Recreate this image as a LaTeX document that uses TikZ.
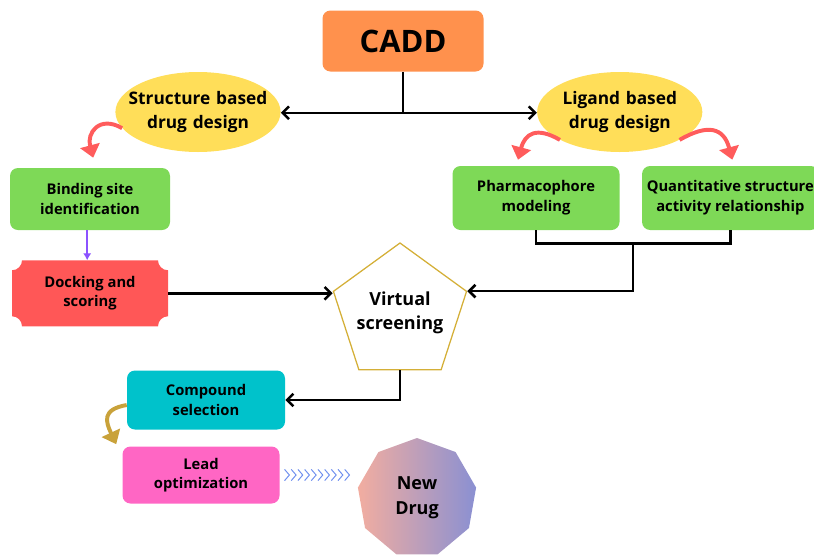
\documentclass[tikz,border=0pt]{standalone}
\usepackage{fontspec}
\setmainfont{Open Sans}
\usepackage{tikz}
\usetikzlibrary{arrows.meta,positioning,shapes.geometric,calc,backgrounds}
\definecolor{caddorange}{HTML}{FF914D}
\definecolor{designyellow}{HTML}{FFDE59}
\definecolor{stepgreen}{HTML}{7ED957}
\definecolor{dockred}{HTML}{FF5757}
\definecolor{swooshred}{HTML}{FF5C5C}
\definecolor{arrowpurple}{HTML}{8C52FF}
\definecolor{vsgold}{HTML}{D4AF37}
\definecolor{swooshgold}{HTML}{C9A23A}
\definecolor{compteal}{HTML}{00C2CB}
\definecolor{leadpink}{HTML}{FF66C4}
\definecolor{chevblue}{HTML}{6F8FEE}
\definecolor{drugpeach}{HTML}{F2ADA0}
\definecolor{drugpink}{HTML}{EC8AA7}
\definecolor{drugblue}{HTML}{8A90D2}
\begin{document}
\begin{tikzpicture}[>={Straight Barb[length=4.5pt,width=9pt]},every node/.style={font=\bfseries},
  stepbox/.style={rounded corners=0.2cm,minimum width=4cm,minimum height=1.55cm,align=center,font=\fontsize{10.5}{14}\selectfont\bfseries},
  design/.style={ellipse,fill=designyellow,text width=3.9cm,inner xsep=-0.49cm,inner ysep=0pt,minimum width=4.125cm,minimum height=2cm,align=center,font=\fontsize{12.3}{17.5}\selectfont\bfseries},
  link/.style={line width=1.8pt},
  swoosh/.style={line width=2.8pt,swooshred,-{Triangle[length=9pt,width=14pt]}}]
\useasboundingbox (0,0) rectangle (20.35,-13.85);
% top of the tree
\node[fill=caddorange,rounded corners=0.2cm,minimum width=4.025cm,minimum height=1.525cm,font=\fontsize{22}{26}\selectfont\bfseries] (cadd) at (10.075,-1.025) {CADD};
\node[design] (sbdd) at (4.95,-2.8) {Structure based\\drug design};
\node[design,right=6.4cm of sbdd] (lbdd) {Ligand based\\drug design};
\draw[link] (cadd.south) -- ++(0,-1.025) coordinate (csplit);
\draw[link,->] (csplit) -- (sbdd.east |- csplit);
\draw[link,->] (csplit) -- (lbdd.west |- csplit);
% structure based branch
\node[stepbox,fill=stepgreen] (bsi) at (2.25,-4.975) {Binding site\\identification};
\node[stepbox,below=0.75cm of bsi,minimum width=3.9cm,minimum height=1.65cm,outer sep=0pt,rounded corners=0pt] (dock) {Docking and\\scoring};
\begin{scope}[on background layer]
\fill[dockred] ($(dock.north west)+(0.25,0)$) -- ($(dock.north east)+(-0.25,0)$) arc[start angle=180,end angle=270,radius=0.25]
  -- ($(dock.south east)+(0,0.25)$) arc[start angle=90,end angle=180,radius=0.25]
  -- ($(dock.south west)+(0.25,0)$) arc[start angle=0,end angle=90,radius=0.25]
  -- ($(dock.north west)+(0,-0.25)$) arc[start angle=270,end angle=360,radius=0.25] -- cycle;
\end{scope}
\draw[swoosh] (sbdd.192) to[out=150,in=105,looseness=1.6] ($(bsi.north)+(0.08,0.25)$);
\draw[line width=1.2pt,arrowpurple,-{Latex[length=5pt,width=6pt]}] ($(bsi.south)+(-0.07,0)$) -- ($(dock.north)+(-0.07,0)$);
% ligand based branch
\node[stepbox,fill=stepgreen,minimum width=4.175cm,minimum height=1.6cm] (pharm) at (13.4,-4.95) {Pharmacophore\\modeling};
\node[stepbox,fill=stepgreen,right=0.55cm of pharm,minimum width=4.3cm,minimum height=1.6cm] (qsar) {Quantitative structure\\activity relationship};
\draw[swoosh] (lbdd.205) to[out=150,in=75,looseness=1.5] ($(pharm.north)+(-0.45,0.15)$);
\draw[swoosh] (lbdd.335) to[out=30,in=105,looseness=1.5] ($(qsar.north)+(0.05,0.15)$);
% virtual screening
\node[regular polygon,regular polygon sides=5,draw=vsgold,line width=0.9pt,minimum size=3.5cm,inner sep=-2.5pt,align=center,font=\fontsize{12.8}{17.5}\selectfont\bfseries] (vs) at (10,-7.825) {Virtual\\screening};
\draw[link,->] (dock.east) -- (dock.east -| vs.corner 2);
\draw[link] (pharm.south) -- ++(0,-0.325) -| (qsar.south);
\coordinate (lmid) at ($(pharm.south)!0.5!(qsar.south)+(0,-0.325)$);
\draw[link,->] (lmid) |- (vs.corner 5);
% after screening
\node[stepbox,fill=compteal,minimum width=3.95cm,minimum height=1.475cm] (comp) at (5.15,-10) {Compound\\selection};
\node[stepbox,fill=leadpink,minimum width=3.925cm,minimum height=1.425cm] (lead) at (5.025,-11.875) {Lead\\optimization};
\node[regular polygon,regular polygon sides=9,minimum size=3cm,inner sep=0pt,left color=drugpeach,middle color=drugpink,right color=drugblue,align=center,font=\fontsize{12.8}{17.5}\selectfont\bfseries] (drug) at (10.425,-12.45) {New\\Drug};
\draw[link,->] (vs.south) |- (comp.east);
\draw[swoosh,swooshgold] ($(comp.west)+(0,-0.125)$) to[out=190,in=115,looseness=1.6] ($(lead.north west)+(-0.15,0.05)$);
\foreach \i in {0,...,9}
  \draw[chevblue,line width=0.7pt] ($(lead.east)+(0.12+\i*0.167,0.14)$) -- ++(0.12,-0.14) -- ++(-0.12,-0.14);
\end{tikzpicture}
\end{document}
